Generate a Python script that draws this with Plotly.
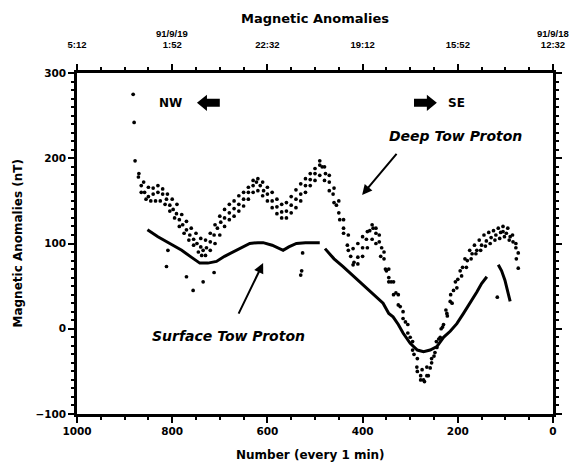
import plotly.graph_objects as go

# ---------------- data ----------------
deep_mid_x = [882, 880, 878, 871, 865, 858, 850, 840, 830, 820, 812, 805, 798, 791, 785, 778, 770, 763, 755, 748,
              740, 735, 728, 720, 712, 705, 698, 690, 680, 670, 660, 650, 640, 630, 623, 615, 608, 600, 590, 580,
              570, 560, 550, 540, 530, 520, 510, 500, 490, 485, 478, 470, 462, 455, 448, 440, 432, 425, 418, 410,
              400, 392, 385, 378, 372, 365, 360, 355, 350, 345, 340, 330, 321, 310, 300, 292, 286, 278, 272, 265,
              258, 250, 244, 237, 230, 223, 216, 209, 200, 190, 180, 170, 160, 150, 140, 130, 120, 110, 105, 98,
              90, 84, 78, 73]
deep_mid_y = [275, 242, 197, 178, 168, 160, 155, 158, 160, 158, 152, 145, 140, 135, 128, 122, 116, 110, 105, 100,
              96, 92, 95, 102, 110, 118, 125, 130, 136, 141, 146, 152, 160, 168, 172, 168, 162, 158, 150, 143,
              137, 138, 145, 152, 158, 168, 175, 182, 192, 190, 182, 172, 158, 145, 128, 112, 98, 85, 78, 84,
              95, 105, 115, 118, 112, 102, 95, 82, 68, 60, 55, 42, 26, 8, -10, -30, -45, -55, -60, -55,
              -46, -32, -22, -10, 5, 18, 32, 45, 58, 72, 80, 88, 92, 98, 103, 107, 110, 113, 114, 112,
              108, 102, 95, 89]

deep_up_x = [870, 860, 850, 840, 830, 820, 810, 800, 790, 780, 770, 760, 750, 740, 730, 720, 710, 700, 690, 680,
             670, 660, 650, 640, 630, 620, 610, 600, 590, 580, 570, 560, 550, 540, 530, 520, 510, 500, 490, 480,
             470, 460, 450, 440, 430, 420, 410, 400, 390, 380, 372, 365, 355, 345, 335, 325, 315, 305, 295, 285,
             275, 265, 255, 245, 235, 225, 215, 205, 195, 185, 175, 165, 155, 145, 135, 125, 115, 105, 95, 85, 78]
deep_up_y = [182, 172, 166, 165, 168, 164, 158, 152, 146, 134, 126, 118, 112, 106, 104, 112, 122, 132, 140, 146,
             150, 156, 160, 166, 174, 176, 172, 166, 160, 152, 146, 148, 155, 163, 170, 176, 182, 188, 197, 190,
             180, 165, 150, 128, 110, 94, 100, 108, 114, 122, 118, 110, 90, 70, 55, 40, 20, 5, -15, -35,
             -48, -45, -35, -15, 0, 22, 40, 55, 68, 82, 92, 98, 104, 110, 113, 115, 118, 120, 118, 110, 100]

deep_lo_x = [865, 855, 845, 835, 825, 815, 805, 795, 785, 775, 765, 755, 745, 738, 730, 720, 710, 700, 690, 680,
             670, 660, 650, 640, 630, 620, 610, 600, 590, 580, 570, 560, 550, 540, 530, 520, 510, 500, 490, 480,
             470, 460, 450, 440, 430, 420, 410, 400, 390, 380, 372, 362, 352, 345, 335, 325, 315, 305, 295, 285,
             278, 270, 262, 255, 248, 240, 232, 222, 212, 202, 192, 182, 172, 162, 152, 142, 132, 122, 112, 102, 92]
deep_lo_y = [160, 152, 150, 150, 150, 146, 138, 130, 120, 112, 104, 98, 90, 86, 86, 92, 100, 110, 120, 128,
             132, 138, 144, 152, 160, 162, 156, 150, 142, 135, 130, 130, 136, 142, 150, 160, 168, 174, 180, 174,
             162, 148, 136, 118, 92, 75, 76, 85, 95, 105, 100, 85, 70, 55, 40, 28, 12, -5, -25, -50,
             -60, -62, -55, -40, -28, -12, 2, 15, 30, 48, 62, 72, 82, 88, 92, 97, 100, 104, 106, 108, 104]

deep_out_x = [812, 770, 756, 735, 712, 809, 526, 528, 530, 117, 73, 77]
deep_out_y = [73, 61, 45, 55, 66, 92, 89, 68, 63, 37, 71, 82]

surf_x = [852, 830, 805, 780, 760, 742, 725, 707, 690, 679, 665, 650, 637, 620, 609, 590, 575, 567, 555, 539,
          520, 505, 490, None, 479, 460, 441, 420, 399, 378, 357, 345, 336, 325, 315, 300, 285, 272, 258, 244,
          230, 216, 202, 188, 174, 160, 150, 139, None, 115, 108, 101, 95, 90]
surf_y = [116, 108, 100, 92, 84, 77, 77, 79, 85, 88, 92, 96, 100, 101, 101, 98, 94, 92, 96, 100,
          101, 101, 101, None, 94, 82, 73, 62, 51, 41, 30, 18, 14, 5, -5, -17, -25, -27, -25, -21,
          -10, -3, 6, 18, 30, 43, 53, 61, None, 75, 68, 57, 45, 32]

x_ticks = [1000, 800, 600, 400, 200, 0]
x_tick_text = ["1000", "800", "600", "400", "200", "0"]
top_tick_text = ["5:12", "1:52", "22:32", "19:12", "15:52", "12:32"]
top_dates = {800: "91/9/19", 0: "91/9/18"}
y_ticks = [-100, 0, 100, 200, 300]

# ---------------- styles ----------------
WIDE = "DejaVu Sans, Verdana, sans-serif"
TICKF = dict(family=WIDE, size=10.5, color="black", weight="bold")
TOPF = dict(family="Liberation Sans, Arial, sans-serif", size=9.5, color="black", weight="bold")
LABF = dict(family=WIDE, size=12, color="black", weight="bold")
ITAL = dict(family=WIDE, size=14, color="black", weight="bold", style="italic")

fig = go.Figure()
mk = dict(color="black", size=3.7)
for xs, ys in [(deep_mid_x, deep_mid_y), (deep_up_x, deep_up_y), (deep_lo_x, deep_lo_y),
               (deep_out_x, deep_out_y)]:
    fig.add_trace(go.Scatter(x=xs, y=ys, mode="markers", marker=mk, showlegend=False))
fig.add_trace(go.Scatter(x=surf_x, y=surf_y, mode="lines", line=dict(color="black", width=3),
                         connectgaps=False, showlegend=False))
# invisible trace for the top (time) axis
fig.add_trace(go.Scatter(x=[1000, 0], y=[None, None], xaxis="x2", mode="markers", showlegend=False,
                         hoverinfo="skip"))

common_ticks = dict(ticks="outside", ticklen=6, tickwidth=2, tickcolor="black", showline=True,
                    linewidth=2.5, linecolor="black", showgrid=False, zeroline=False, automargin=False)
# page body has an 8px margin, so the figure is 8px smaller and margins shifted accordingly
fig.update_layout(
    width=575, height=457,
    margin=dict(l=69, r=30, t=65, b=51, autoexpand=False),
    paper_bgcolor="white", plot_bgcolor="white",
    xaxis=dict(range=[1000, 0], tickvals=x_ticks, ticktext=x_tick_text, tickfont=TICKF,
               minor=dict(dtick=50, ticks="outside", ticklen=3, tickwidth=2, tickcolor="black"),
               **common_ticks),
    xaxis2=dict(range=[1000, 0], overlaying="x", side="top", tickvals=x_ticks, ticktext=top_tick_text,
                tickfont=TOPF, ticklabelstandoff=12,
                minor=dict(dtick=50, ticks="outside", ticklen=3, tickwidth=2, tickcolor="black"),
                **common_ticks),
    yaxis=dict(range=[-100, 300], tickvals=y_ticks, tickfont=TICKF, mirror="ticks",
               minor=dict(dtick=10, ticks="outside", ticklen=3, tickwidth=1.5, tickcolor="black"),
               **common_ticks),
)

# titles
fig.add_annotation(x=0.5, y=1.161, xref="paper", yref="paper", text="Magnetic Anomalies",
                   showarrow=False, xanchor="center", yanchor="middle",
                   font=dict(family=WIDE, size=13, color="black", weight="bold"))
fig.add_annotation(x=0.49, y=-0.12, xref="paper", yref="paper", text="Number (every 1 min)",
                   showarrow=False, xanchor="center", yanchor="middle", font=LABF)
fig.add_annotation(x=-0.126, y=0.5, xref="paper", yref="paper", text="Magnetic Anomalies (nT)",
                   showarrow=False, xanchor="center", yanchor="middle", textangle=-90, font=LABF)

for xv, txt in top_dates.items():
    fig.add_annotation(x=xv, y=1.0, xref="x", yref="paper", yshift=40, yanchor="middle", text=txt,
                       showarrow=False, font=TOPF)

# direction labels with block arrows
fig.add_annotation(x=803, y=265, text="NW", showarrow=False, font=dict(family=WIDE, size=12,
                                                                       color="black", weight="bold"))
fig.add_annotation(x=203, y=265, text="SE", showarrow=False, font=dict(family=WIDE, size=12,
                                                                       color="black", weight="bold"))
fig.add_shape(type="path", xref="x", yref="y", fillcolor="black", line=dict(width=0),
              path="M 748,265 L 727,274.5 L 727,269.7 L 700,269.7 L 700,260.3 L 727,260.3 L 727,255.5 Z")
fig.add_shape(type="path", xref="x", yref="y", fillcolor="black", line=dict(width=0),
              path="M 244,265 L 265,274.5 L 265,269.7 L 292,269.7 L 292,260.3 L 265,260.3 L 265,255.5 Z")

fig.add_annotation(x=204, y=226, text="Deep Tow Proton", showarrow=False, font=ITAL)
fig.add_annotation(x=401, y=157, ax=326, ay=207, xref="x", yref="y", axref="x", ayref="y", text="",
                   showarrow=True, arrowhead=2, arrowsize=1, arrowwidth=2, arrowcolor="black")
fig.add_annotation(x=681, y=-8, text="Surface Tow Proton", showarrow=False, font=ITAL)
fig.add_annotation(x=609, y=77, ax=662, ay=16, xref="x", yref="y", axref="x", ayref="y", text="",
                   showarrow=True, arrowhead=2, arrowsize=1, arrowwidth=2, arrowcolor="black")

fig.write_html("out.html")
